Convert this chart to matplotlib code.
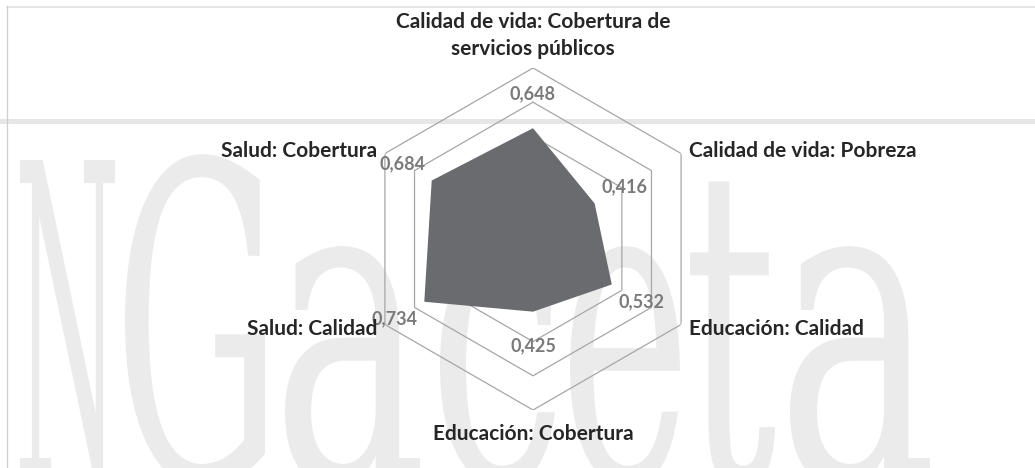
import numpy as np
import matplotlib
matplotlib.use("Agg")
from matplotlib import pyplot as plt
from matplotlib.textpath import TextPath
from matplotlib.patches import PathPatch
from matplotlib.font_manager import FontProperties
from matplotlib.transforms import Affine2D

# Data
categories = ["Calidad de vida: Cobertura de\nservicios públicos",
              "Calidad de vida: Pobreza",
              "Educación: Calidad",
              "Educación: Cobertura",
              "Salud: Calidad",
              "Salud: Cobertura"]
values = [0.648, 0.416, 0.532, 0.425, 0.734, 0.684]
rings = [0.2, 0.4, 0.6, 0.8, 1.0]

W, H = 1035, 468
fig = plt.figure(figsize=(W / 100, H / 100), dpi=100)
fig.patch.set_facecolor("white")

# background / watermark layer (pixel coords, y down)
bg = fig.add_axes([0, 0, 1, 1])
bg.set_xlim(0, W)
bg.set_ylim(H, 0)
bg.axis("off")

fp = FontProperties(family="DejaVu Serif")
# letter, left, right (px)
wm_letters = [("N", 20, 115), ("G", 125, 265), ("a", 285, 420), ("c", 440, 555),
              ("e", 570, 680), ("t", 690, 775), ("a", 790, 930)]
em = 440          # px per em vertically
base = 160 + 0.729 * em
for ch, x0, x1 in wm_letters:
    tp = TextPath((0, 0), ch, size=1, prop=fp)
    ext = tp.get_extents()
    sx = (x1 - x0) / (ext.xmax - ext.xmin)
    tr = Affine2D().translate(-ext.xmin, 0).scale(sx, -em).translate(x0, base)
    bg.add_patch(PathPatch(tr.transform_path(tp), facecolor="#ebebeb",
                           edgecolor="none", zorder=0))

bg.plot([0, W], [121, 121], color="#e6e6e6", lw=3.6, zorder=1)
bg.plot([7, W], [6.5, 6.5], color="#e0e0e0", lw=1.2, zorder=1)
bg.plot([7.3, 7.3], [6, H], color="#cfcfcf", lw=0.9, zorder=1)

# radar axes: center (533, 239) px, outer radius 171 px
cx, cy, R = 533, 239, 171
ax = fig.add_axes([(cx - R) / W, (H - cy - R) / H, 2 * R / W, 2 * R / H], projection="polar")
ax.set_theta_offset(np.pi / 2)
ax.set_theta_direction(-1)
ax.set_ylim(0, 1)
ax.grid(False)
ax.set_xticks([])
ax.set_yticks([])
ax.spines["polar"].set_visible(False)
ax.patch.set_alpha(0)

n = len(categories)
theta = np.arange(n) * 2 * np.pi / n
closed = np.append(theta, theta[0])

for r in rings:
    ax.plot(closed, [r] * (n + 1), color="#a6a6a6", lw=0.9, zorder=1)

ax.fill(closed, np.append(values, values[0]), color="#6a6b6f", zorder=2, lw=0)

font = "Lato"
for t, v in zip(theta, values):
    dx, dy = 34 * np.sin(t), 34 * np.cos(t)
    ax.annotate(f"{v:.3f}".replace(".", ","), (t, v), xytext=(dx, dy),
                textcoords="offset pixels", ha="center", va="center",
                color="#7a7a7a", fontsize=13, fontweight="bold",
                family=font, zorder=5, annotation_clip=False)

cat_pos = [((0, 9), "center", "bottom"),
           ((7.5, -3.5), "left", "baseline"),
           ((7.5, -10.5), "left", "baseline"),
           ((0, -30), "center", "baseline"),
           ((-8, -10.5), "right", "baseline"),
           ((-8, -3.5), "right", "baseline")]
for t, lbl, (off, ha, va) in zip(theta, categories, cat_pos):
    ax.annotate(lbl, (t, 1.0), xytext=off, textcoords="offset pixels",
                ha=ha, va=va, multialignment="center", linespacing=1.45,
                color="#262626", fontsize=15, fontweight="bold",
                family=font, zorder=5, annotation_clip=False)

fig.savefig("out.png", dpi=100)
